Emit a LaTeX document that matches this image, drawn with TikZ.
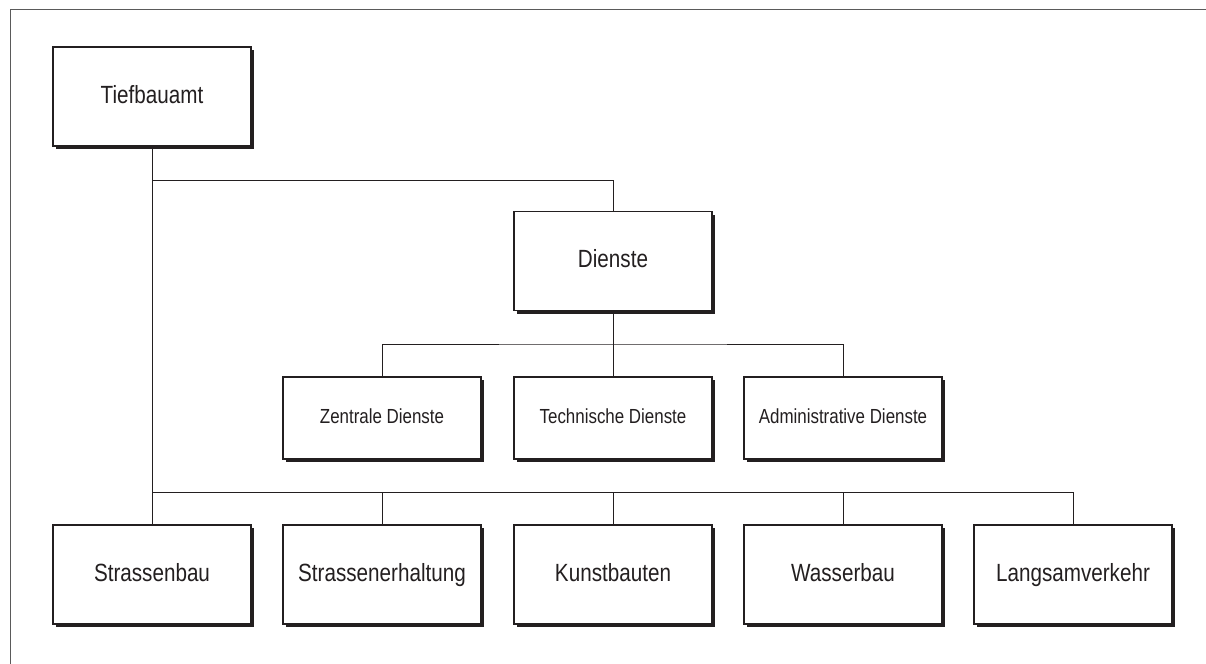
\documentclass[tikz,border=0pt]{standalone}
\usepackage{fontspec}
\newfontfamily\orgfont{Liberation Sans}[FakeStretch=0.83]
\usepackage{xcolor}
\usepackage{tikz}
\usetikzlibrary{positioning, calc, shadows}
\definecolor{ink}{RGB}{35, 31, 32}
\definecolor{frameline}{RGB}{90, 90, 90}
\tikzstyle{unitbox} = [rectangle, minimum width=4.95cm, minimum height=2.475cm, text centered, text height=13pt, text depth=3.5pt, draw=ink, line width=1pt, fill=white, text=ink, font=\orgfont\fontsize{17.7}{20}\selectfont, drop shadow={shadow xshift=0.08cm, shadow yshift=-0.08cm, fill=ink, opacity=1}]
\tikzstyle{subbox} = [unitbox, minimum height=2.05cm, text height=10.5pt, text depth=3pt, font=\orgfont\fontsize{14.5}{17}\selectfont]
\tikzstyle{link} = [draw=ink, line width=0.6pt]
\begin{document}
\begin{tikzpicture}[x=0.025cm, y=-0.025cm]
    \useasboundingbox (0,0) rectangle (1206,664);
    % Frame (top and left only)
    \draw[frameline, line width=0.6pt] (1206,9) -- (10,9) -- (10,664);

    % Head office
    \node[unitbox] (tief) at (152, 96.5) {Tiefbauamt};

    % Services
    \node[unitbox] (dienste) at (613, 261) {Dienste};
    \node[subbox] (zentral) at (382, 418) {Zentrale Dienste};
    \node[subbox] (techn) at (613, 418) {Technische Dienste};
    \node[subbox] (admin) at (843, 418) {Administrative Dienste};

    % Divisions
    \node[unitbox] (strbau) at (152, 574.5) {Strassenbau};
    \node[unitbox] (strerh) at (382, 574.5) {Strassenerhaltung};
    \node[unitbox] (kunst) at (613, 574.5) {Kunstbauten};
    \node[unitbox] (wasser) at (843, 574.5) {Wasserbau};
    \node[unitbox] (langsam) at (1073, 574.5) {Langsamverkehr};

    % Bus lines
    \coordinate (busA) at (152, 180);
    \coordinate (busB) at (613, 344);
    \coordinate (busC) at (152, 492);

    % Connectors
    \draw[link] (tief.south) -- (strbau.north);
    \draw[link] (busA) -| (dienste.north);
    \draw[link] (dienste.south) -- (techn.north);
    \draw[link] (zentral.north) |- (busB) -| (admin.north);
    \draw[link] (busC) -| (langsam.north);
    \foreach \unit in {strerh, kunst, wasser}
        \draw[link] (\unit.north) -- (\unit.north |- busC);
\end{tikzpicture}
\end{document}
